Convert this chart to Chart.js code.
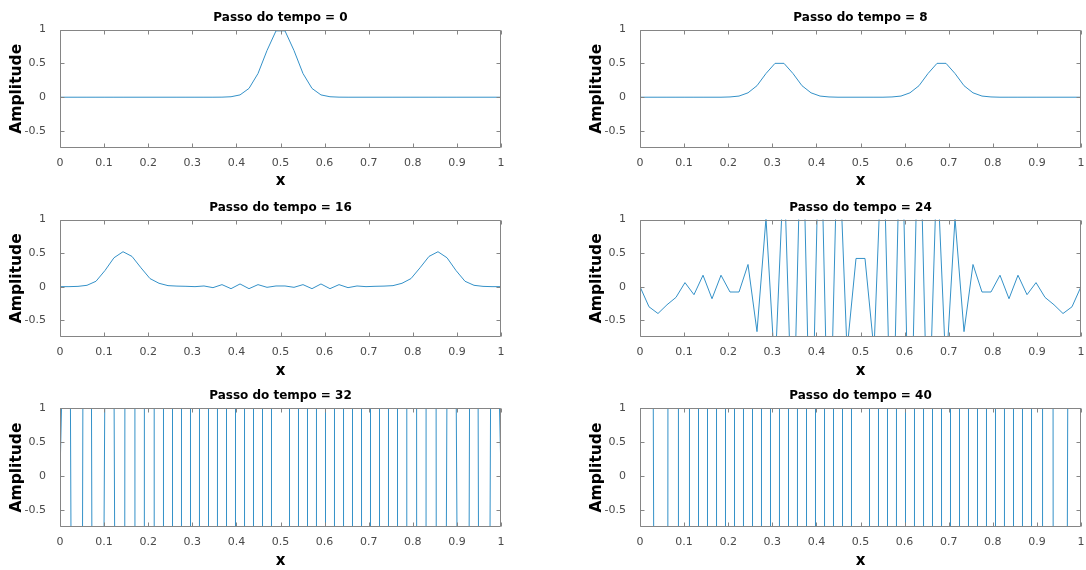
<!DOCTYPE html>
<html>
<head>
<meta charset="utf-8">
<script src="https://cdn.jsdelivr.net/npm/chart.js@4.4.1/dist/chart.umd.min.js"></script>
<style>
  html, body { margin: 0; padding: 0; background: #fff; }
  #fig { position: relative; width: 1086px; height: 570px; overflow: hidden; }
  #fig canvas { position: absolute; }
</style>
</head>
<body>
<div id="fig"></div>
<script>
// grid points x = 0 .. 1 (50 points)
const xGrid = [0, 0.0204, 0.0408, 0.0612, 0.0816, 0.1020, 0.1224, 0.1429, 0.1633, 0.1837,
  0.2041, 0.2245, 0.2449, 0.2653, 0.2857, 0.3061, 0.3265, 0.3469, 0.3673, 0.3878,
  0.4082, 0.4286, 0.4490, 0.4694, 0.4898, 0.5102, 0.5306, 0.5510, 0.5714, 0.5918,
  0.6122, 0.6327, 0.6531, 0.6735, 0.6939, 0.7143, 0.7347, 0.7551, 0.7755, 0.7959,
  0.8163, 0.8367, 0.8571, 0.8776, 0.8980, 0.9184, 0.9388, 0.9592, 0.9796, 1];

const xTicks = [0, 0.1, 0.2, 0.3, 0.4, 0.5, 0.6, 0.7, 0.8, 0.9, 1];
const xTickLabels = ['0', '0.1', '0.2', '0.3', '0.4', '0.5', '0.6', '0.7', '0.8', '0.9', '1'];
const yTicks = [-0.5, 0, 0.5, 1];
const yTickLabels = ['-0.5', '0', '0.5', '1'];
const titles = ['Passo do tempo = 0', 'Passo do tempo = 8', 'Passo do tempo = 16',
  'Passo do tempo = 24', 'Passo do tempo = 32', 'Passo do tempo = 40'];

const step0 = [0, 0, 0, 0, 0, 0, 0, 0, 0, 0,
  0, 0, 0, 0, 0, 0, 0, 0, 0.001, 0.007,
  0.034, 0.13, 0.35, 0.69, 0.98, 0.98, 0.69, 0.35, 0.13, 0.034,
  0.007, 0.001, 0, 0, 0, 0, 0, 0, 0, 0,
  0, 0, 0, 0, 0, 0, 0, 0, 0, 0];

const step8 = [0, 0, 0, 0, 0, 0, 0, 0, 0, 0,
  0.004, 0.017, 0.065, 0.17, 0.35, 0.5, 0.5, 0.35, 0.17, 0.065,
  0.017, 0.004, 0, 0, 0, 0, 0, 0, 0.004, 0.017,
  0.065, 0.17, 0.35, 0.5, 0.5, 0.35, 0.17, 0.065, 0.017, 0.004,
  0, 0, 0, 0, 0, 0, 0, 0, 0, 0];

const step16 = [0, 0, 0.004, 0.02, 0.08, 0.24, 0.43, 0.52, 0.45, 0.28,
  0.12, 0.05, 0.015, 0.008, 0.005, 0, 0.01, -0.015, 0.03, -0.03,
  0.04, -0.03, 0.03, -0.01, 0.01, 0.01, -0.01, 0.03, -0.03, 0.04,
  -0.03, 0.03, -0.015, 0.01, 0, 0.005, 0.008, 0.015, 0.05, 0.12,
  0.28, 0.45, 0.52, 0.43, 0.24, 0.08, 0.02, 0.004, 0, 0];

const step24 = [0, -0.3, -0.4, -0.27, -0.16, 0.06, -0.12, 0.17, -0.18, 0.17,
  -0.08, -0.08, 0.33, -0.67, 1.02, -1.27, 1.84, -2.5, 3.0, -3.0,
  3.0, -3.0, 2.5, -0.95, 0.42, 0.42, -0.95, 2.5, -3.0, 3.0,
  -3.0, 3.0, -2.5, 1.84, -1.27, 1.02, -0.67, 0.33, -0.08, -0.08,
  0.17, -0.18, 0.17, -0.12, 0.06, -0.16, -0.27, -0.4, -0.3, 0];

// steps 32 and 40 run far off the axes; values are estimates from where the lines cross
const step32 = [0, 6, -25, 23, -21, 1.6, 1.5, -30, 120, -250,
  420, -600, 700, -700, 700, -700, 700, -700, 700, -700,
  700, -700, 700, -700, 700, 700, -700, 700, -700, 700,
  -700, 700, -700, 700, -700, 700, -700, 700, -600, 420,
  -250, 120, -30, 1.5, 1.6, -21, 23, -25, 6, 0];

const step40 = [0, 20, -20, -20, 180, -720, 2160, -5800, 14000, -30000,
  60000, -90000, 120000, -150000, 175000, -200000, 220000, -240000, 255000, -270000,
  280000, -290000, 295000, -300000, 300000, 300000, -300000, 295000, -290000, 280000,
  -270000, 255000, -240000, 220000, -200000, 175000, -150000, 120000, -90000, 60000,
  -30000, 14000, -5800, 2160, -720, 180, -20, -20, 20, 0];

const series = [step0, step8, step16, step24, step32, step40];

const FONT = "'DejaVu Sans', sans-serif";

const rowTop = [0, 190, 380];
const areaTop = [29.5, 29.5, 28];
const areaBottom = [148, 147, 147];
const titlePadTop = [10.6, 10.6, 9.1];
const colLeft = [0, 540];
const colWidth = [540, 546];
const areaLeft = [60, 100];
const areaRight = [501, 541];
const ylabelPad = [9.2, 49.2];

const boxTicks = {
  id: 'boxTicks',
  afterDatasetsDraw(chart) {
    const { ctx, chartArea: a, scales: { x, y } } = chart;
    const L = Math.round(a.left) + 0.5, R = Math.round(a.right) - 0.5;
    const T = Math.round(a.top) + 0.5, B = Math.round(a.bottom) - 0.5;
    ctx.save();
    ctx.strokeStyle = '#858585';
    ctx.lineWidth = 1;
    ctx.beginPath();
    ctx.rect(L, T, R - L, B - T);
    x.ticks.forEach(t => {
      const p = Math.round(x.getPixelForValue(t.value)) + 0.5;
      ctx.moveTo(p, B); ctx.lineTo(p, B - 4);
      ctx.moveTo(p, T); ctx.lineTo(p, T + 4);
    });
    y.ticks.forEach(t => {
      const p = Math.round(y.getPixelForValue(t.value)) + 0.5;
      ctx.moveTo(L, p); ctx.lineTo(L + 4, p);
      ctx.moveTo(R, p); ctx.lineTo(R - 4, p);
    });
    ctx.stroke();
    ctx.restore();
  }
};

const fig = document.getElementById('fig');

series.forEach((vals, k) => {
  const row = Math.floor(k / 2), col = k % 2;
  const W = colWidth[col], H = 190;
  const canvas = document.createElement('canvas');
  canvas.width = W; canvas.height = H;
  canvas.style.left = colLeft[col] + 'px';
  canvas.style.top = rowTop[row] + 'px';
  canvas.style.width = W + 'px'; canvas.style.height = H + 'px';
  fig.appendChild(canvas);

  new Chart(canvas, {
    type: 'line',
    data: {
      datasets: [{
        data: xGrid.map((xv, i) => ({ x: xv, y: vals[i] })),
        borderColor: '#3491c8',
        borderWidth: 1,
        pointRadius: 0,
        tension: 0,
        fill: false
      }]
    },
    options: {
      responsive: false,
      animation: false,
      devicePixelRatio: 1,
      layout: { padding: { left: 0, right: W - areaRight[col], top: 0, bottom: 0 } },
      plugins: {
        legend: { display: false },
        tooltip: { enabled: false },
        title: {
          display: true,
          fullSize: false,
          text: titles[k],
          color: '#000',
          font: { family: FONT, size: 12, weight: 'bold', lineHeight: 1.2 },
          padding: { top: titlePadTop[row], bottom: areaTop[row] - 14.4 - titlePadTop[row] }
        }
      },
      scales: {
        x: {
          type: 'linear',
          min: 0, max: 1,
          afterBuildTicks: s => { s.ticks = xTicks.map(v => ({ value: v })); },
          afterFit: s => { s.height = H - areaBottom[row]; },
          grid: { display: false },
          border: { display: false },
          ticks: {
            color: '#4a4a4a',
            font: { family: FONT, size: 11 },
            padding: 1,
            maxRotation: 0,
            autoSkip: false,
            callback: v => xTickLabels[xTicks.indexOf(v)]
          },
          title: {
            display: true, text: 'x', color: '#000',
            font: { family: FONT, size: 15, weight: 'bold', lineHeight: 1 },
            padding: { top: 0, bottom: 1.2 }
          }
        },
        y: {
          type: 'linear',
          min: -0.75, max: 1,
          afterBuildTicks: s => { s.ticks = yTicks.map(v => ({ value: v })); },
          afterFit: s => { s.width = areaLeft[col]; },
          grid: { display: false },
          border: { display: false },
          ticks: {
            color: '#4a4a4a',
            font: { family: FONT, size: 11 },
            padding: 6,
            autoSkip: false,
            callback: v => yTickLabels[yTicks.indexOf(v)]
          },
          title: {
            display: true, text: 'Amplitude', color: '#000',
            font: { family: FONT, size: 15.5, weight: 'bold', lineHeight: 1 },
            padding: { top: ylabelPad[col], bottom: 0 }
          }
        }
      }
    },
    plugins: [boxTicks]
  });
});
</script>
</body>
</html>
